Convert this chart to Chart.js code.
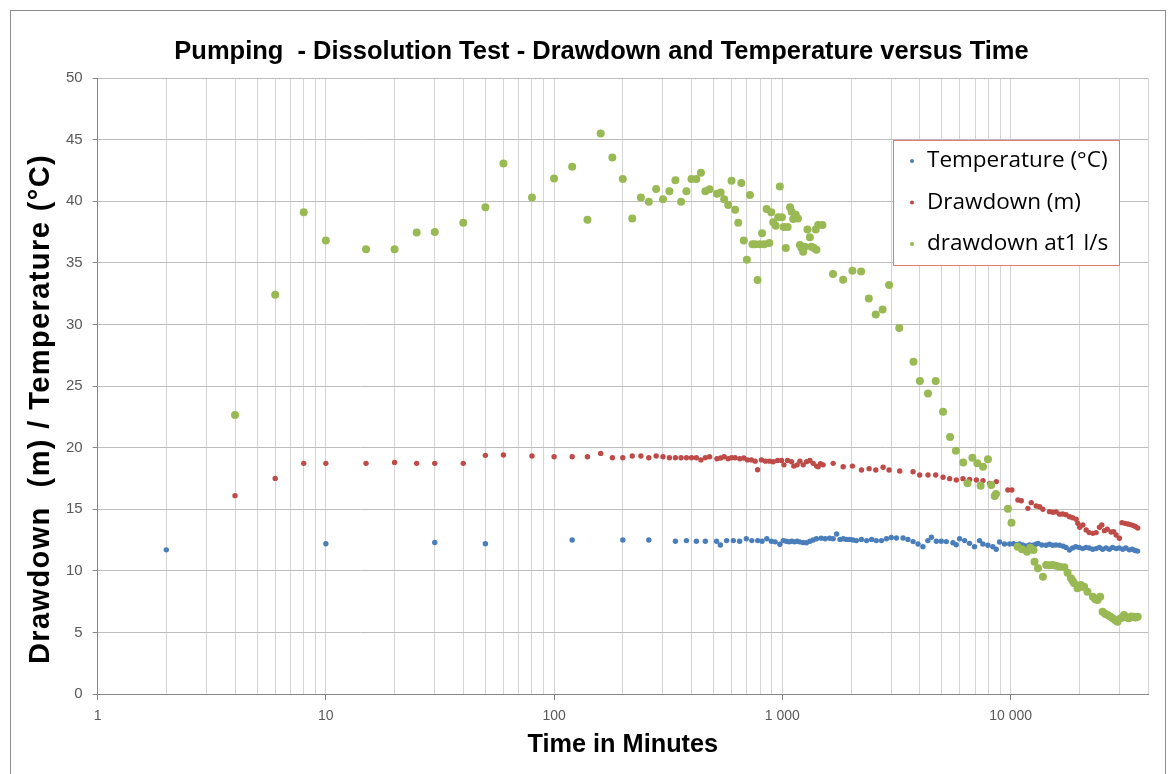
<!DOCTYPE html>
<html lang="en">
<head>
<meta charset="UTF-8">
<title>Pumping - Dissolution Test</title>
<script src="https://cdn.jsdelivr.net/npm/chart.js"></script>
<style>
  html, body { margin: 0; padding: 0; background: #fff; }
  #wrap { width: 1176px; height: 774px; }
</style>
</head>
<body>
<div id="wrap"><canvas id="pumpChart" width="1176" height="774"></canvas></div>
<script>
// axis ticks
const xMajorTicks = [1, 10, 100, 1000, 10000];
const xMax = 40000;
const yTicks = [0, 5, 10, 15, 20, 25, 30, 35, 40, 45, 50];

// series: [time in minutes, value]
const temperature = [
  [2, 11.7], [10, 12.2], [30, 12.3], [50, 12.2], [120, 12.5], [200, 12.5], [260, 12.5], [340, 12.4],
  [380, 12.45], [420, 12.4], [460, 12.4], [515, 12.4], [535, 12.1], [570, 12.45], [610, 12.45], [650, 12.4],
  [695, 12.6], [735, 12.45], [780, 12.45], [815, 12.4], [855, 12.6], [895, 12.4], [930, 12.35], [975, 12.15],
  [1010, 12.45], [1040, 12.4], [1070, 12.35], [1100, 12.4], [1130, 12.35], [1160, 12.4], [1190, 12.35], [1230, 12.3],
  [1275, 12.28], [1320, 12.4], [1365, 12.5], [1410, 12.6], [1480, 12.65], [1540, 12.6], [1610, 12.64], [1670, 12.6],
  [1730, 12.99], [1790, 12.55], [1850, 12.6], [1910, 12.55], [1975, 12.55], [2040, 12.5], [2110, 12.45], [2220, 12.55],
  [2340, 12.45], [2460, 12.55], [2580, 12.45], [2720, 12.45], [2860, 12.6], [3000, 12.7], [3160, 12.66], [3380, 12.66],
  [3550, 12.55], [3740, 12.37], [3930, 12.18], [4130, 11.96], [4340, 12.45], [4500, 12.72], [4730, 12.4], [4970, 12.4],
  [5230, 12.37], [5590, 12.28], [5780, 12.12], [5980, 12.6], [6290, 12.45], [6610, 12.23], [6950, 11.96], [7310, 12.45],
  [7560, 12.18], [7950, 12.07], [8360, 11.96], [8650, 11.75], [8950, 12.34], [9400, 12.18], [9900, 12.18], [10300, 12.2],
  [10600, 12.12], [10950, 12.18], [11300, 12.1], [11700, 12.01], [12100, 12.1], [12500, 12.07], [12900, 12.15], [13200, 12.23],
  [13700, 12.1], [14300, 12.07], [14800, 12.15], [15300, 12.07], [15800, 12.1], [16400, 12.07], [17000, 12.0], [17500, 11.9],
  [18100, 11.69], [18700, 11.85], [19300, 11.95], [20000, 11.9], [20700, 11.8], [21400, 11.9], [22100, 11.85], [22900, 11.75],
  [23700, 11.8], [24500, 11.9], [25300, 11.75], [26200, 11.85], [27100, 11.75], [28000, 11.9], [29000, 11.8], [29900, 11.85],
  [31000, 11.75], [32000, 11.85], [33100, 11.7], [34200, 11.75], [35100, 11.65], [36000, 11.6]
];

const drawdown = [
  [4, 16.1], [6, 17.5], [8, 18.72], [10, 18.72], [15, 18.72], [20, 18.8], [25, 18.72], [30, 18.72],
  [40, 18.72], [50, 19.37], [60, 19.4], [80, 19.32], [100, 19.26], [120, 19.26], [140, 19.26], [160, 19.53],
  [180, 19.18], [200, 19.18], [220, 19.32], [240, 19.32], [260, 19.18], [280, 19.32], [300, 19.26], [320, 19.18],
  [340, 19.18], [360, 19.18], [380, 19.18], [400, 19.18], [420, 19.18], [440, 19.0], [460, 19.18], [480, 19.26],
  [517, 19.1], [537, 19.15], [556, 19.26], [579, 19.1], [599, 19.18], [621, 19.18], [651, 19.1], [678, 19.15],
  [703, 19.0], [732, 19.0], [760, 18.9], [779, 18.2], [810, 19.0], [844, 18.9], [879, 18.9], [912, 18.85],
  [953, 18.95], [992, 18.95], [1016, 18.6], [1054, 18.95], [1097, 18.85], [1123, 18.5], [1161, 18.6], [1194, 18.9],
  [1234, 18.6], [1277, 18.86], [1320, 18.95], [1365, 18.72], [1412, 18.5], [1435, 18.45], [1469, 18.7], [1509, 18.6],
  [1670, 18.72], [1847, 18.45], [2027, 18.5], [2222, 18.18], [2400, 18.29], [2567, 18.18], [2763, 18.4], [2935, 18.18],
  [3268, 18.1], [3738, 18.04], [3998, 17.78], [4347, 17.78], [4697, 17.78], [5058, 17.59], [5409, 17.48], [5785, 17.37],
  [6188, 17.48], [6618, 17.42], [7078, 17.37], [7570, 17.32], [8097, 17.1], [8660, 17.24], [9732, 16.56], [10130, 16.56],
  [10770, 15.75], [11140, 15.69], [11910, 15.07], [12320, 15.53], [12950, 15.26], [13400, 15.2], [13850, 14.99], [14810, 14.8],
  [15320, 14.75], [15840, 14.78], [16400, 14.6], [16940, 14.61], [17500, 14.55], [18120, 14.39], [18700, 14.3], [19380, 14.18],
  [19700, 13.85], [20100, 13.53], [20730, 13.72], [21440, 13.31], [22100, 13.1], [22930, 13.04], [23700, 13.1], [24520, 13.53],
  [25100, 13.72], [25780, 13.26], [26500, 13.37], [27570, 13.15], [28300, 13.18], [28990, 12.91], [29970, 12.64], [30780, 13.91],
  [31700, 13.85], [32630, 13.8], [33500, 13.75], [34300, 13.69], [35200, 13.6], [36070, 13.47]
];

const drawdownAt1 = [
  [4, 22.65], [6, 32.4], [8, 39.1], [10, 36.8], [15, 36.1], [20, 36.1], [25, 37.45], [30, 37.5],
  [40, 38.26], [50, 39.5], [60, 43.05], [80, 40.3], [100, 41.85], [120, 42.8], [140, 38.5], [160, 45.5],
  [180, 43.55], [200, 41.8], [220, 38.6], [240, 40.3], [260, 39.96], [280, 41.0], [300, 40.15], [320, 40.8],
  [340, 41.7], [360, 39.96], [380, 40.8], [400, 41.8], [420, 41.8], [440, 42.3], [460, 40.8], [480, 40.96],
  [517, 40.6], [537, 40.7], [556, 40.15], [579, 39.7], [599, 41.67], [621, 39.3], [641, 38.26], [661, 41.47],
  [678, 36.8], [699, 35.25], [721, 40.5], [740, 36.5], [760, 36.5], [779, 33.6], [797, 36.5], [815, 37.4],
  [832, 36.5], [853, 39.37], [877, 36.6], [894, 39.1], [912, 38.3], [935, 38.0], [959, 38.7], [975, 41.2],
  [996, 38.7], [1013, 37.9], [1035, 36.2], [1055, 37.9], [1081, 39.5], [1099, 39.15], [1116, 38.55], [1145, 38.9],
  [1170, 38.6], [1194, 36.45], [1213, 36.2], [1233, 35.9], [1254, 36.3], [1288, 37.7], [1320, 37.07], [1341, 36.3],
  [1376, 36.2], [1400, 37.7], [1411, 36.05], [1435, 38.07], [1499, 38.07], [1667, 34.1], [1846, 33.63], [2028, 34.36],
  [2214, 34.3], [2392, 32.1], [2566, 30.8], [2750, 31.2], [2935, 33.2], [3253, 29.7], [3754, 26.97], [4005, 25.4],
  [4347, 24.4], [4697, 25.4], [5058, 22.9], [5430, 20.86], [5760, 19.75], [6200, 18.8], [6474, 17.1], [6800, 19.18],
  [7150, 18.72], [7390, 16.9], [7570, 18.45], [7960, 19.05], [8230, 16.96], [8520, 16.07], [8630, 16.23], [9730, 15.04],
  [10090, 13.9], [10740, 11.96], [11220, 11.74], [11800, 11.55], [12190, 11.88], [12600, 11.69], [12730, 10.74], [13180, 10.2],
  [13860, 9.52], [14320, 10.47], [14800, 10.45], [15320, 10.47], [15800, 10.4], [16380, 10.33], [17200, 10.28], [17760, 9.85],
  [18380, 9.39], [18700, 9.2], [19000, 8.98], [19650, 8.58], [20310, 8.85], [20700, 8.7], [21000, 8.71], [21720, 8.3],
  [22930, 7.9], [23500, 7.7], [24020, 7.63], [24700, 7.9], [25300, 6.68], [26000, 6.5], [26650, 6.41], [27300, 6.3],
  [27990, 6.14], [28700, 6.0], [29400, 5.87], [30380, 6.14], [31400, 6.41], [32200, 6.2], [33000, 6.14], [33800, 6.3],
  [34670, 6.27], [35300, 6.2], [36060, 6.27]
];

const seriesNames = ['Temperature (°C)', 'Drawdown (m)', 'drawdown at1 l/s'];
const seriesColors = ['#4a7ebb', '#be4b48', '#98b954'];

const toPoints = arr => arr.map(p => ({ x: p[0], y: p[1] }));

// every 1..9 x 10^n line between the major ticks
const xGridTicks = [];
xMajorTicks.forEach(m => {
  for (let k = 1; k < 10; k++) {
    if (m * k <= xMax) xGridTicks.push(m * k);
  }
});
if (xGridTicks[xGridTicks.length - 1] !== xMax) xGridTicks.push(xMax);

const fmtThousands = v => String(v).replace(/\B(?=(\d{3})+(?!\d))/g, ' ');

// white background, outer frame, y title and the boxed legend
const chartDecor = {
  id: 'chartDecor',
  beforeDraw(chart) {
    const ctx = chart.ctx;
    ctx.save();
    ctx.fillStyle = '#fff';
    ctx.fillRect(0, 0, chart.width, chart.height);
    ctx.strokeStyle = '#8e8e8e';
    ctx.lineWidth = 1;
    ctx.strokeRect(10.5, 10.5, 1155, 800);
    ctx.restore();
  },
  afterDraw(chart) {
    const ctx = chart.ctx;
    ctx.save();
    ctx.translate(41, 409);
    ctx.rotate(-Math.PI / 2);
    ctx.fillStyle = '#000';
    ctx.font = 'bold 29px "Liberation Sans", Arial, sans-serif';
    ctx.letterSpacing = '1.4px';
    ctx.textAlign = 'center';
    ctx.textBaseline = 'middle';
    ctx.fillText('Drawdown  (m) / Temperature (°C)', 0, 0);
    ctx.restore();

    ctx.save();
    ctx.fillStyle = '#fff';
    ctx.fillRect(893, 140, 226, 125);
    ctx.strokeStyle = '#e07a7a';
    ctx.lineWidth = 1;
    ctx.strokeRect(893.5, 140.5, 226, 125);
    ctx.font = '22.5px "Open Sans", sans-serif';
    ctx.textBaseline = 'middle';
    seriesNames.forEach((name, i) => {
      const y = 161 + i * 41.5;
      ctx.fillStyle = seriesColors[i];
      ctx.beginPath();
      ctx.arc(912, y, 2, 0, Math.PI * 2);
      ctx.fill();
      ctx.fillStyle = '#000';
      ctx.fillText(name, 927, y);
    });
    ctx.restore();
  }
};

const ctx = document.getElementById('pumpChart').getContext('2d');
const pumpChart = new Chart(ctx, {
  type: 'scatter',
  data: {
    datasets: [
      {
        label: seriesNames[0],
        data: toPoints(temperature),
        backgroundColor: seriesColors[0],
        borderColor: seriesColors[0],
        pointRadius: 2.7,
        pointBorderWidth: 0,
        order: 3
      },
      {
        label: seriesNames[1],
        data: toPoints(drawdown),
        backgroundColor: seriesColors[1],
        borderColor: seriesColors[1],
        pointRadius: 2.7,
        pointBorderWidth: 0,
        order: 2
      },
      {
        label: seriesNames[2],
        data: toPoints(drawdownAt1),
        backgroundColor: seriesColors[2],
        borderColor: seriesColors[2],
        pointRadius: 4,
        pointBorderWidth: 0,
        order: 1
      }
    ]
  },
  options: {
    responsive: false,
    devicePixelRatio: 1,
    animation: false,
    events: [],
    layout: { padding: { left: 55, right: 28, top: 0, bottom: 0 } },
    plugins: {
      legend: { display: false },
      tooltip: { enabled: false },
      title: {
        display: true,
        text: 'Pumping  - Dissolution Test - Drawdown and Temperature versus Time',
        color: '#000',
        font: { family: '"Liberation Sans", Arial, sans-serif', size: 25.5, weight: 'bold', lineHeight: 1.2 },
        padding: { top: 37, bottom: 10.4 }
      }
    },
    scales: {
      x: {
        type: 'logarithmic',
        min: 1,
        max: xMax,
        afterFit(scale) { scale.height = 80; },
        afterBuildTicks(scale) {
          scale.ticks = xGridTicks.map(v => ({ value: v }));
        },
        grid: {
          color: '#d4d4d4',
          lineWidth: 1,
          tickLength: 6,
          tickColor: c => (c.tick && xMajorTicks.includes(c.tick.value)) ? '#868686' : 'rgba(0,0,0,0)'
        },
        border: { color: '#868686', width: 1 },
        ticks: {
          autoSkip: false,
          maxRotation: 0,
          minRotation: 0,
          padding: 8,
          color: '#595959',
          font: { family: '"Liberation Sans", Arial, sans-serif', size: 14 },
          callback: v => xMajorTicks.includes(v) ? fmtThousands(v) : ''
        },
        title: {
          display: true,
          text: 'Time in Minutes',
          color: '#000',
          font: { family: '"Liberation Sans", Arial, sans-serif', size: 25.3, weight: 'bold', lineHeight: 1.2 },
          padding: { top: 0, bottom: 14 }
        }
      },
      y: {
        type: 'linear',
        min: 0,
        max: 50,
        afterFit(scale) { scale.width = 42.6; },
        afterBuildTicks(scale) {
          scale.ticks = yTicks.map(v => ({ value: v }));
        },
        grid: {
          color: '#bdbdbd',
          lineWidth: 1,
          tickLength: 5,
          tickColor: '#868686'
        },
        border: { color: '#868686', width: 1 },
        ticks: {
          padding: 10,
          color: '#595959',
          font: { family: '"Liberation Sans", Arial, sans-serif', size: 15 }
        }
      }
    }
  },
  plugins: [chartDecor]
});
</script>
</body>
</html>
